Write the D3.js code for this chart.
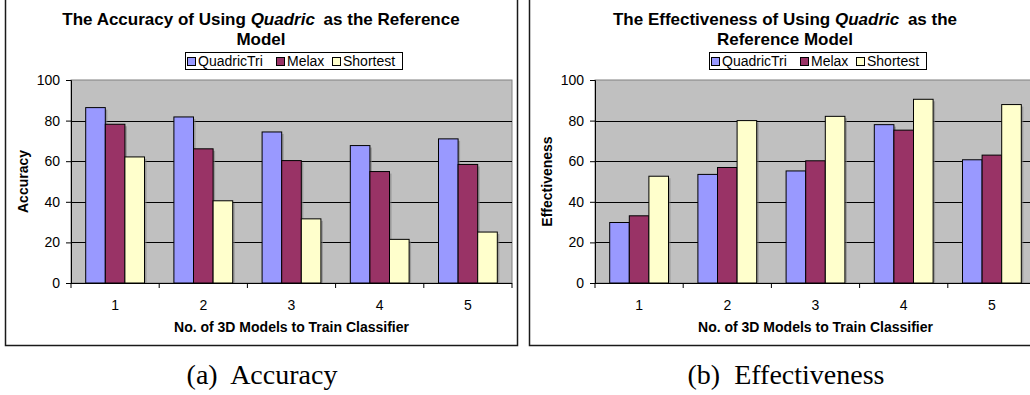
<!DOCTYPE html>
<html>
<head>
<meta charset="utf-8">
<script src="https://cdn.jsdelivr.net/npm/d3@7"></script>
<style>
  html, body { margin: 0; padding: 0; background: #fff; }
  svg { display: block; }
  text { font-family: "Liberation Sans", Arial, sans-serif; fill: #000; }
  .caption { font-family: "Liberation Serif", "Times New Roman", serif; }
</style>
</head>
<body>
<svg id="fig" width="1030" height="395"></svg>
<script>
// Categories: number of 3D models used to train the classifier
const categories = ["1", "2", "3", "4", "5"];
const seriesNames = ["QuadricTri", "Melax", "Shortest"];
const seriesColors = ["#9999FF", "#993366", "#FFFFCC"];
const yTicks = [0, 20, 40, 60, 80, 100];

// (a) accuracy per series
const accQuadricTri = [86.4, 81.8, 74.4, 67.7, 71.0];
const accMelax      = [78.2, 66.1, 60.3, 54.9, 58.4];
const accShortest   = [62.1, 40.5, 31.6, 21.5, 25.1];

// (b) effectiveness per series
const effQuadricTri = [29.8, 53.5, 55.2, 78.0, 60.7];
const effMelax      = [33.1, 56.9, 60.2, 75.3, 63.0];
const effShortest   = [52.6, 80.0, 82.1, 90.5, 87.9];

const svg = d3.select("#fig");

function drawChart(dx, opts) {
  const g = svg.append("g").attr("transform", `translate(${dx},0)`);
  const plot = { left: 71, right: 512, top: 80, bottom: 283 };
  const cx = 261;

  // outer chart frame
  g.append("rect")
    .attr("x", 5.5).attr("y", -5).attr("width", 512).attr("height", 350.5)
    .attr("fill", "none").attr("stroke", "#1a1a1a").attr("stroke-width", 1.5);

  // title (two lines, "Quadric" in italics)
  const title = g.append("text")
    .attr("text-anchor", "middle")
    .style("font-weight", "bold").style("font-size", "17px");
  opts.title.forEach((line, i) => {
    const t = title.append("tspan").attr("x", cx).attr("y", 25 + i * 20);
    line.forEach(part => {
      t.append("tspan")
        .style("font-style", part.italic ? "italic" : "normal")
        .attr("dx", part.dx || 0)
        .text(part.text);
    });
  });

  const x = d3.scaleBand()
    .domain(categories)
    .range([plot.left, plot.right])
    .paddingInner(1 / 3)
    .paddingOuter(1 / 6);
  const xs = d3.scaleBand()
    .domain(seriesNames)
    .range([0, x.bandwidth()]);
  const y = d3.scaleLinear().domain([0, 100]).range([plot.bottom, plot.top]);

  // plot background
  g.append("rect")
    .attr("x", plot.left).attr("y", plot.top)
    .attr("width", plot.right - plot.left).attr("height", plot.bottom - plot.top)
    .attr("fill", "#C0C0C0").attr("stroke", "#808080").attr("stroke-width", 1);

  // gridlines
  g.append("g").selectAll("line")
    .data(yTicks.filter(v => v > 0 && v < 100))
    .join("line")
    .attr("x1", plot.left).attr("x2", plot.right)
    .attr("y1", d => Math.round(y(d)) + 0.5).attr("y2", d => Math.round(y(d)) + 0.5)
    .attr("stroke", "#000").attr("stroke-width", 1);

  // bars with a soft drop shadow
  const rows = [];
  opts.series.forEach((vals, si) => {
    vals.forEach((v, ci) => rows.push({ s: seriesNames[si], c: categories[ci], v, color: seriesColors[si] }));
  });
  const bars = g.append("g");
  bars.selectAll("rect.shadow")
    .data(rows).join("rect").attr("class", "shadow")
    .attr("x", d => x(d.c) + xs(d.s) + 2)
    .attr("y", d => y(d.v) + 2)
    .attr("width", xs.bandwidth())
    .attr("height", d => Math.max(0, plot.bottom - y(d.v) - 2))
    .attr("fill", "#808080").attr("opacity", 0.6);
  bars.selectAll("rect.bar")
    .data(rows).join("rect").attr("class", "bar")
    .attr("x", d => x(d.c) + xs(d.s))
    .attr("y", d => y(d.v))
    .attr("width", xs.bandwidth())
    .attr("height", d => plot.bottom - y(d.v))
    .attr("fill", d => d.color)
    .attr("stroke", "#000").attr("stroke-width", 1);

  // y axis
  const yAxis = g.append("g")
    .attr("transform", `translate(${plot.left},0)`)
    .call(d3.axisLeft(y).tickValues(yTicks).tickSize(5).tickPadding(6));
  yAxis.selectAll("text").style("font-size", "14px").attr("fill", "#000");
  yAxis.selectAll("line, path").attr("stroke", "#000");

  // x axis: ticks sit on category boundaries
  const xAxis = g.append("g").attr("transform", `translate(0,${plot.bottom})`);
  xAxis.append("line")
    .attr("x1", plot.left - 5).attr("x2", plot.right)
    .attr("y1", 0.5).attr("y2", 0.5).attr("stroke", "#000");
  const bounds = d3.range(categories.length + 1).map(i => plot.left + i * x.step());
  xAxis.selectAll("line.tick")
    .data(bounds).join("line").attr("class", "tick")
    .attr("x1", d => d).attr("x2", d => d)
    .attr("y1", 0).attr("y2", 5).attr("stroke", "#000");
  xAxis.selectAll("text")
    .data(categories).join("text")
    .attr("x", d => x(d) + x.bandwidth() / 2)
    .attr("y", 27)
    .attr("text-anchor", "middle")
    .style("font-size", "14px")
    .text(d => d);

  // axis titles
  g.append("text")
    .attr("x", (plot.left + plot.right) / 2).attr("y", 332)
    .attr("text-anchor", "middle")
    .style("font-weight", "bold").style("font-size", "14px")
    .text("No. of 3D Models to Train Classifier");
  g.append("text")
    .attr("transform", `translate(${opts.yTitleX},${(plot.top + plot.bottom) / 2}) rotate(-90)`)
    .attr("text-anchor", "middle").attr("dy", "0.35em")
    .style("font-weight", "bold").style("font-size", "14px")
    .text(opts.yTitle);

  // legend
  const lg = g.append("g").attr("transform", "translate(185,52)");
  lg.append("rect")
    .attr("x", 0.5).attr("y", 0.5).attr("width", 217).attr("height", 17)
    .attr("fill", "#fff").attr("stroke", "#000").attr("stroke-width", 1);
  const lx = [2.5, 91.5, 147.5];
  seriesNames.forEach((name, i) => {
    lg.append("rect")
      .attr("x", lx[i]).attr("y", 5.5).attr("width", 8).attr("height", 8)
      .attr("fill", seriesColors[i]).attr("stroke", "#000");
    lg.append("text")
      .attr("x", lx[i] + 10.5).attr("y", 14)
      .style("font-size", "14px")
      .text(name);
  });

  // caption
  g.append("text").attr("class", "caption")
    .attr("x", cx + 1).attr("y", 384)
    .attr("text-anchor", "middle")
    .style("font-size", "28px")
    .attr("xml:space", "preserve")
    .text(opts.caption);
}

drawChart(0, {
  title: [
    [{ text: "The Accuracy of Using " }, { text: "Quadric", italic: true }, { text: " as the Reference", dx: 4 }],
    [{ text: "Model" }]
  ],
  series: [accQuadricTri, accMelax, accShortest],
  yTitle: "Accuracy",
  yTitleX: 23,
  caption: "(a)  Accuracy"
});

drawChart(524, {
  title: [
    [{ text: "The Effectiveness of Using " }, { text: "Quadric", italic: true }, { text: " as the", dx: 4 }],
    [{ text: "Reference Model" }]
  ],
  series: [effQuadricTri, effMelax, effShortest],
  yTitle: "Effectiveness",
  yTitleX: 23,
  caption: "(b)  Effectiveness"
});
</script>
</body>
</html>
